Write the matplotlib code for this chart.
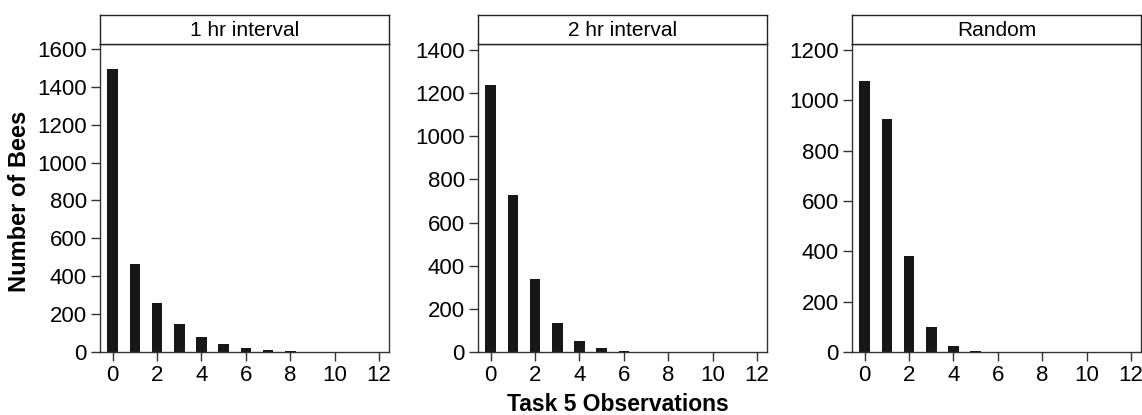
import matplotlib.pyplot as plt

plt.rcParams['font.family'] = ['Liberation Sans', 'DejaVu Sans']

# Data: number of bees by count of Task 5 observations
observations = list(range(13))
hr1_counts = [1495, 463, 257, 146, 78, 41, 21, 12, 3, 2, 1, 1, 1]
hr2_counts = [1236, 726, 340, 135, 53, 18, 3, 2, 1, 1, 1, 1, 1]
random_counts = [1075, 926, 383, 101, 22, 2, 1, 1, 1, 1, 1, 1, 1]

panel_titles = ['1 hr interval', '2 hr interval', 'Random']
panel_data = [hr1_counts, hr2_counts, random_counts]
panel_yticks = [[0, 200, 400, 600, 800, 1000, 1200, 1400, 1600],
                [0, 200, 400, 600, 800, 1000, 1200, 1400],
                [0, 200, 400, 600, 800, 1000, 1200]]
panel_ytop = [1626, 1428, 1224]
xticks = [0, 2, 4, 6, 8, 10, 12]

W, H = 1142, 415
fig = plt.figure(figsize=(W / 100, H / 100), dpi=100)

lefts = [100, 478, 852]
width = 289
bottom_px = 352
top_px = 44
strip_top = 15

for i in range(3):
    ax = fig.add_axes([lefts[i] / W, (H - bottom_px) / H, width / W, (bottom_px - top_px) / H])
    ax.bar(observations, panel_data[i], width=0.48, color='#171717')
    ax.set_xlim(-0.57, 12.45)
    ax.set_ylim(0, panel_ytop[i])
    ax.set_xticks(xticks)
    ax.set_yticks(panel_yticks[i])
    ax.tick_params(direction='out', length=6.5, width=1, labelsize=16, color='#333333', pad=3)
    for s in ax.spines.values():
        s.set_linewidth(1.0)
        s.set_color('#333333')

    sax = fig.add_axes([lefts[i] / W, (H - top_px) / H, width / W, (top_px - strip_top) / H])
    sax.set_xticks([])
    sax.set_yticks([])
    for s in sax.spines.values():
        s.set_linewidth(1.0)
        s.set_color('#222222')
    sax.text(0.5, 0.45, panel_titles[i], ha='center', va='center', fontsize=15,
             transform=sax.transAxes)

    if i == 0:
        ax.set_ylabel('Number of Bees', fontsize=17, fontweight='bold')

# y label placed in figure pixels to match the reference
fig.text(20 / W, 1 - 201 / H, 'Number of Bees', rotation=90, ha='center', va='center',
         fontsize=17, fontweight='bold')
fig.axes[0].set_ylabel('')

fig.text(618 / W, 1 - 404 / H, 'Task 5 Observations', ha='center', va='center',
         fontsize=16.5, fontweight='bold')

fig.savefig('out.png', dpi=100)
